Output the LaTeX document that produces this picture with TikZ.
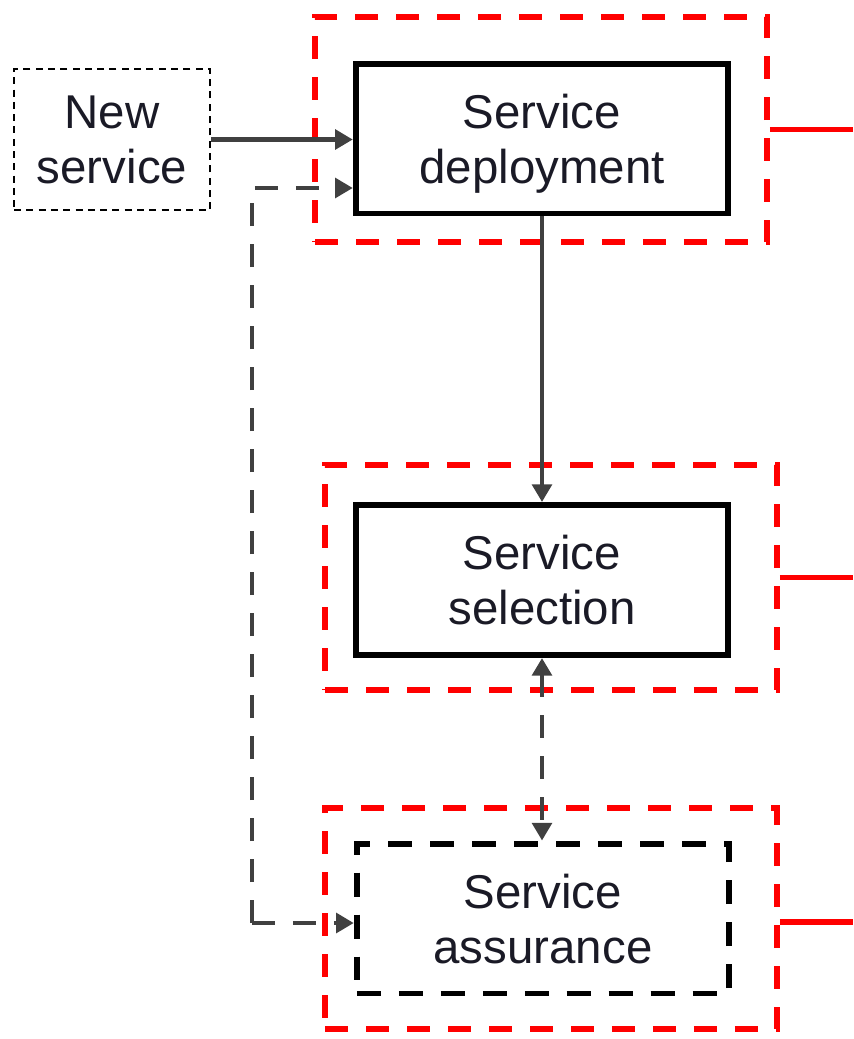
\documentclass[tikz,border=0pt]{standalone}
\usepackage{fontspec}
\setmainfont{Liberation Sans}
\usetikzlibrary{arrows.meta}
\definecolor{txtdark}{HTML}{1A1A26}
\definecolor{linkgray}{HTML}{404040}
\definecolor{framered}{HTML}{FF0000}

\begin{document}
\begin{tikzpicture}[
	x=0.02cm, y=-0.02cm,
	every node/.style={font=\fontsize{27}{31.5}\selectfont, text=txtdark, align=center, inner sep=0pt, text depth=0pt},
	block/.style={draw=black, line width=3.4pt, minimum width=7.45cm, minimum height=3.0cm},
	frame/.style={draw=framered, line width=3.4pt, dash pattern=on 0.46cm off 0.36cm, minimum width=9.04cm, minimum height=4.5cm},
	link/.style={draw=linkgray, line width=2.6pt, -{Triangle[length=10pt, width=11pt]}},
	dlink/.style={link, dash pattern=on 0.46cm off 0.36cm},
	feed/.style={draw=framered, line width=3.4pt}
	]
	\useasboundingbox (0,0) rectangle (853,1039);
	\coordinate (rim) at (853,0);
	
	% Red frames
	\node[frame] (deployfr) at (541,129.5) {};
	\node[frame] (selectfr) at (551,577.5) {};
	\node[frame, minimum height=4.42cm] (assurefr) at (551,918.5) {};
	
	% Blocks
	\node[draw=black, line width=1.5pt, dash pattern=on 4pt off 3pt, minimum width=3.92cm, minimum height=2.82cm] (newsvc) at (112,139.5) {New\\service};
	\node[block] (deploy) at (542,138.5) {Service\\deployment};
	\node[block] (select) at (542,580) {Service\\selection};
	\node[block, dash pattern=on 0.48cm off 0.36cm] (assure) at (543,918.5) {Service\\assurance};
	
	% Connectors
	\draw[link] (newsvc.east) -- (newsvc.east -| deploy.west);
	\draw[link] (deploy.south) -- (select.north);
	\draw[dlink, {Triangle[length=10pt, width=11pt]}-{Triangle[length=10pt, width=11pt]}] (select.south) -- (select.south |- assure.north);
	
	% Loop back to deployment and assurance
	\coordinate (bend) at (252,923);
	\draw[dlink] (bend) |- ([yshift=-0.99cm]deploy.west);
	\draw[dlink] (bend) -- (bend -| assure.west);
	
	% Red outputs
	\draw[feed] (deployfr.east) -- (deployfr.east -| rim);
	\draw[feed] (selectfr.east) -- (selectfr.east -| rim);
	\draw[feed] ([yshift=-0.07cm]assurefr.east) -- ([yshift=-0.07cm]assurefr.east -| rim);
\end{tikzpicture}
\end{document}
